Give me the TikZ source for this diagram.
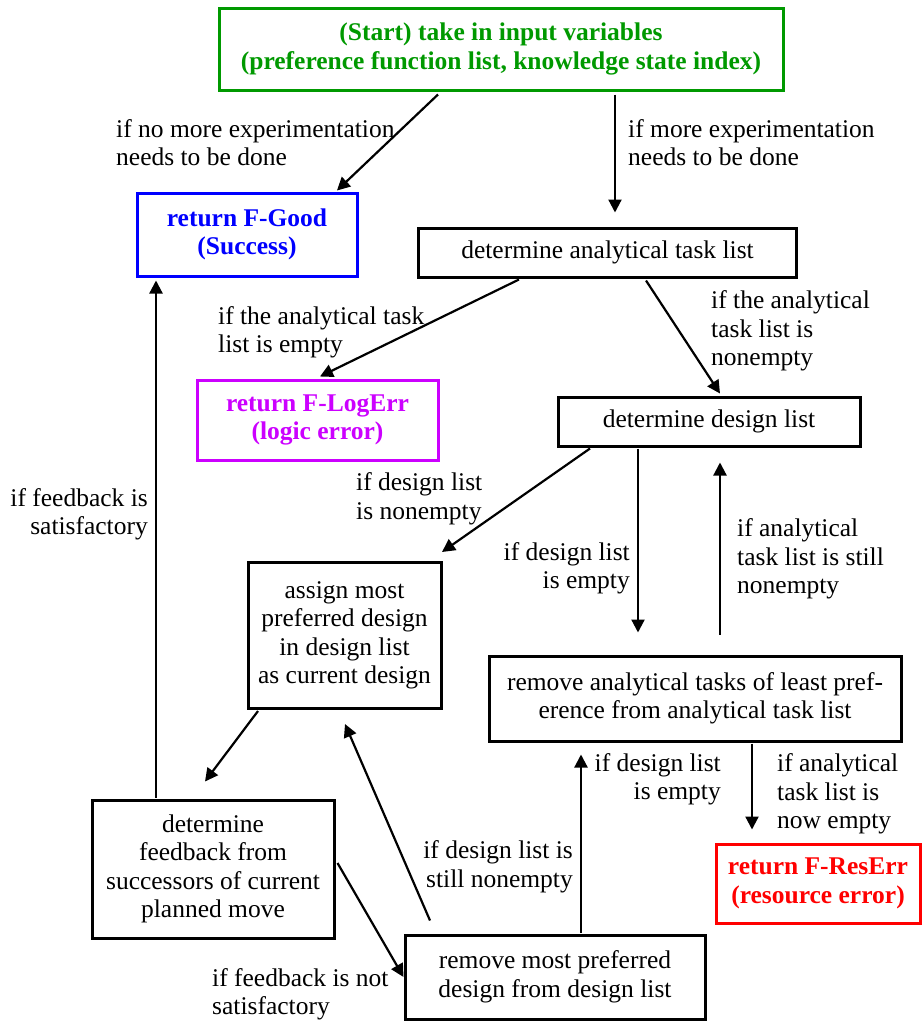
\documentclass[tikz,border=0pt]{standalone}
\usepackage{fontspec}
\setmainfont{Liberation Serif}
\usetikzlibrary{arrows.meta,calc}
\definecolor{cgreen}{RGB}{0,153,0}
\definecolor{cblue}{RGB}{0,0,255}
\definecolor{cmag}{RGB}{204,0,255}
\definecolor{cred}{RGB}{255,0,0}
\begin{document}
\begin{tikzpicture}[x=1pt,y=-1pt,
  every node/.style={font=\fontsize{25.5}{28.5}\selectfont},
  box/.style={draw=black,line width=3pt,inner sep=0pt,align=center,fill=white},
  cbox/.style={box,font=\fontsize{25.5}{28.5}\selectfont\bfseries,draw=#1,text=#1},
  lbl/.style={inner sep=0pt,align=left,anchor=west},
  rlbl/.style={inner sep=0pt,align=right,anchor=east},
  arr/.style={line width=2.2pt,-{Triangle[length=13pt,width=13pt]}}]
\useasboundingbox (0,0) rectangle (922,1023);
% boxes
\node[cbox=cgreen,minimum width=564pt,minimum height=82pt] (start) at (501,49)
  {(Start) take in input variables\\(preference function list, knowledge state index)};
\node[cbox=cblue,minimum width=220pt,minimum height=83pt] (good) at (247,234.5)
  {return F-Good\\(Success)};
\node[box,minimum width=378pt,minimum height=49pt] (atl) at (607.5,252.5)
  {determine analytical task list};
\node[cbox=cmag,minimum width=241pt,minimum height=80pt] (logerr) at (317.5,420)
  {return F-LogErr\\(logic error)};
\node[box,minimum width=302pt,minimum height=49pt] (dl) at (709,421.5)
  {determine design list};
\node[box,minimum width=193pt,minimum height=146pt] (assign) at (344.5,635.5)
  {assign most\\preferred design\\in design list\\as current design};
\node[box,minimum width=412pt,minimum height=85pt] (rat) at (695,698.5)
  {remove analytical tasks of least pref-\\erence from analytical task list};
\node[box,minimum width=242pt,minimum height=138pt] (fb) at (213,869)
  {determine\\feedback from\\successors of current\\planned move};
\node[box,minimum width=300pt,minimum height=84pt] (rmp) at (555,977)
  {remove most preferred\\design from design list};
\node[cbox=cred,minimum width=204pt,minimum height=79pt] (reserr) at (818,883.5)
  {return F-ResErr\\(resource error)};
% labels
\node[lbl] (l1) at (116,142.5) {if no more experimentation\\needs to be done};
\node[lbl] (l2) at (628,142.5) {if more experimentation\\needs to be done};
\node[lbl] (l3) at (218,332.5) {if the analytical task\\list is empty};
\node[lbl] (l4) at (711,331) {if the analytical\\task list is\\nonempty};
\node[lbl] (l5) at (356,499) {if design list\\is nonempty};
\node[rlbl] (l6) at (630,568.5) {if design list\\is empty};
\node[lbl] (l7) at (737,559) {if analytical\\task list is still\\nonempty};
\node[lbl] (l8) at (777,794) {if analytical\\task list is\\now empty};
\node[rlbl] (l9) at (721,779.5) {if design list\\is empty};
\node[rlbl] (l10) at (573,867) {if design list is\\still nonempty};
\node[lbl] (l11) at (212,994.5) {if feedback is not\\satisfactory};
\node[rlbl] (l12) at (148,514.5) {if feedback is\\satisfactory};
% connectors
\draw[arr] ($(start.south -| 438,0)+(0,3)$) -- ($(good.north -| 337,0)+(0,-1)$);
\draw[arr] ($(start.south -| 615,0)+(0,3)$) -- ($(atl.north -| 615,0)+(0,-14)$);
\draw[arr] ($(atl.south -| 519,0)+(0,1)$) -- ($(logerr.north -| 320,0)+(0,-2)$);
\draw[arr] ($(atl.south -| 646,0)+(0,2)$) -- ($(dl.north -| 720,0)+(0,-2)$);
\draw[arr] ($(dl.south -| 590,0)+(0,1)$) -- ($(assign.north -| 442,0)+(0,-9)$);
\draw[arr] ($(dl.south -| 638,0)+(0,1)$) -- ($(rat.north -| 638,0)+(0,-22)$);
\draw[arr] ($(rat.north -| 720,0)+(0,-20)$) -- ($(dl.south -| 720,0)+(0,15)$);
\draw[arr] ($(rat.south -| 752,0)+(0,1)$) -- ($(reserr.north -| 752,0)+(0,-13)$);
\draw[arr] ($(rmp.north -| 581,0)+(0,-1)$) -- ($(rat.south -| 581,0)+(0,12)$);
\draw[arr] ($(rmp.north -| 430,0)+(0,-13)$) -- ($(assign.south -| 345,0)+(0,14)$);
\draw[arr] ($(assign.south -| 258,0)+(0,1)$) -- ($(fb.north -| 205,0)+(0,-17)$);
\draw[arr] ($(fb.east)+(2,-6)$) -- (rmp.west);
\draw[arr] ($(fb.north -| 156,0)+(0,-1)$) -- ($(good.south -| 156,0)+(0,3)$);
\end{tikzpicture}
\end{document}
